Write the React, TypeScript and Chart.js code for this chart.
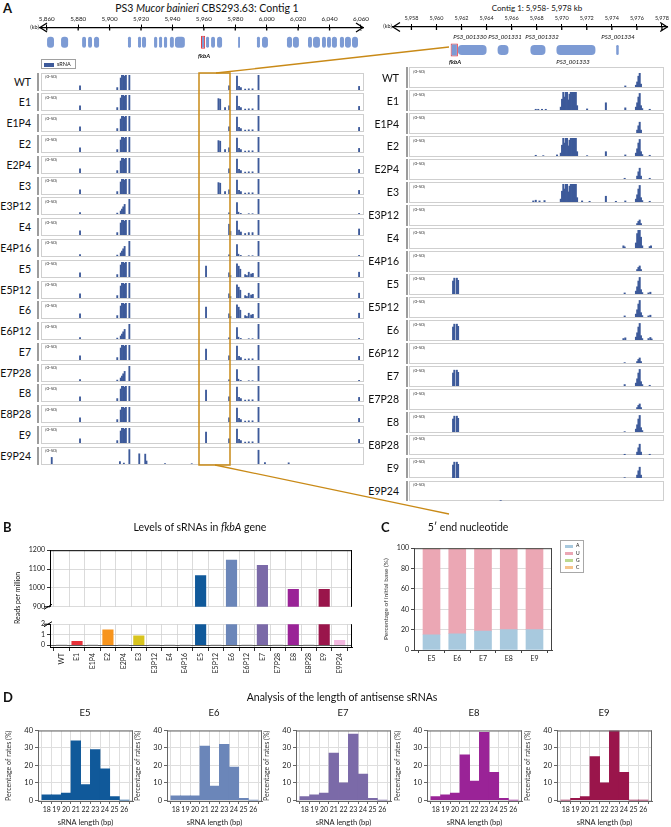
import React, { useEffect, useRef } from 'react';
import { Chart, registerables } from 'chart.js';

Chart.register(...registerables);
const FONT = 'Lato, "Open Sans", "Noto Sans", sans-serif';
Chart.defaults.font.family = FONT;
Chart.defaults.color = '#222';

// ---------------- DATA ----------------
const SAMPLES = ['WT', 'E1', 'E1P4', 'E2', 'E2P4', 'E3', 'E3P12', 'E4', 'E4P16', 'E5', 'E5P12', 'E6', 'E6P12', 'E7', 'E7P28', 'E8', 'E8P28', 'E9', 'E9P24'];

// Panel A axis ticks (kb)
const CONTIG_TICKS = [5860, 5880, 5900, 5920, 5940, 5960, 5980, 6000, 6020, 6040, 6060];
const ZOOM_TICKS = [5958, 5960, 5962, 5964, 5966, 5968, 5970, 5972, 5974, 5976, 5978];

// gene blocks [start kb, end kb]
const CONTIG_GENES = [
  [5860.2, 5864.6], [5869.1, 5873.6], [5882.5, 5885.0], [5886.3, 5888.8], [5890.1, 5893.3],
  [5911.7, 5913.6], [5918.1, 5920.0], [5920.6, 5923.2], [5928.3, 5930.3], [5931.5, 5933.4],
  [5934.6, 5936.6], [5938.4, 5940.9], [5941.6, 5947.9], [5961.4, 5963.3], [5964.6, 5967.1],
  [5968.4, 5971.6], [5981.8, 5983.0], [5993.8, 5995.7], [5997.0, 6000.8], [6012.9, 6016.1],
  [6016.7, 6020.5], [6026.3, 6028.8], [6029.5, 6033.9], [6035.2, 6037.7], [6038.4, 6040.9],
  [6041.5, 6044.7], [6046.6, 6049.2], [6049.8, 6053.6], [6054.3, 6058.1],
];
const CONTIG_FKBA = [5958.2, 5960.8];
const ZOOM_GENES = [[5961.71, 5964.0], [5964.88, 5965.75], [5967.5, 5968.7], [5969.58, 5972.69], [5974.35, 5974.55]];
const ZOOM_FKBA = [5961.13, 5961.71];

// sRNA signal, [kb, reads] — contig view patterns
const L_CLUSTER_FULL = [[5881.2, 14], [5904.9, 8], [5907.1, 40], [5907.9, 50], [5908.7, 50], [5909.6, 46], [5910.4, 50], [5912.6, 50]];
const L_CLUSTER_RAMP = [[5881.2, 5], [5904.9, 3], [5907.1, 10], [5907.9, 16], [5908.7, 24], [5909.6, 32], [5912.6, 50]];
const L_DOWN_FULL = [[5976.1, 14], [5981.1, 46], [5982.4, 12], [5983.6, 8], [5986.3, 3], [5988.6, 4], [5991.0, 4], [5994.8, 50], [6058.8, 12]];
const L_DOWN_E4 = [[5976.1, 36], [5976.9, 12], [5981.1, 46], [5982.4, 16], [5983.6, 10], [5986.3, 5], [5988.6, 8], [5991.0, 8], [5994.8, 50], [6058.8, 20]];
const L_DOWN_RICH = [[5976.1, 14], [5976.9, 5], [5981.1, 44], [5982.2, 36], [5983.2, 26], [5986.3, 8], [5987.4, 5], [5988.6, 16], [5990.1, 10], [5991.2, 12], [5994.8, 50], [6058.8, 16]];
const L_DOWN_SPARSE = [[5976.1, 4], [5981.1, 38], [5982.0, 6], [5983.5, 2], [5988.6, 1], [5991.0, 1], [5994.8, 50], [6058.8, 2]];
const L_PEAK_E1 = [[5969.3, 38], [5970.4, 36], [5973.5, 8]];
const L_PEAK_E5 = [[5961.4, 36]];
const L_E9P24 = [[5863.2, 22], [5906.6, 8], [5909.1, 3], [5912.6, 48], [5918.9, 34], [5922.7, 33], [5923.5, 10], [5935.3, 1], [5952.3, 1], [5994.8, 46], [5998.9, 5], [6014.0, 4]];

// sRNA signal, [kb, reads] — 5,958-5,978 kb view patterns
const R_CLUSTER = [[5969.9, 8], [5970.0, 30], [5970.1, 50], [5970.2, 36], [5970.3, 50], [5970.4, 50], [5970.5, 28], [5970.6, 44], [5970.7, 50], [5970.8, 50], [5970.9, 50], [5971.0, 50], [5971.1, 50], [5971.2, 12]];
const R_SIDE_E1 = [[5967.9, 2], [5968.1, 2], [5968.4, 2], [5968.7, 2], [5972.0, 3], [5973.5, 20], [5975.05, 6], [5977.0, 2]];
const R_SIDE_E2 = [[5967.9, 2], [5968.5, 1], [5969.6, 3], [5972.0, 1], [5973.5, 12], [5975.05, 3], [5977.0, 2]];
const R_SIDE_E3 = [[5967.7, 3], [5967.9, 5], [5968.2, 3], [5968.6, 4], [5971.6, 3], [5972.2, 2], [5973.5, 16], [5974.3, 2], [5975.05, 3], [5977.0, 2]];
const R_PEAK_MAIN = [[5975.05, 3], [5975.9, 5], [5976.0, 14], [5976.1, 30], [5976.2, 38], [5976.3, 8]];
const R_PEAK_TALL = [[5975.9, 8], [5976.0, 20], [5976.1, 36], [5976.2, 46], [5976.3, 12], [5976.4, 4]];
const R_PEAK_MID = [[5976.0, 8], [5976.1, 20], [5976.2, 30], [5976.3, 8]];
const R_PEAK_SMALL = [[5976.0, 4], [5976.1, 10], [5976.2, 14], [5976.3, 4]];
const R_PEAK_E4 = [[5974.9, 6], [5975.0, 3], [5975.9, 14], [5976.0, 40], [5976.1, 50], [5976.2, 50], [5976.3, 30], [5976.4, 6], [5977.0, 4], [5977.1, 6]];
const R_DOUBLE = [[5961.3, 36], [5961.4, 44], [5961.6, 44], [5961.7, 38]];
const R_TAIL_E5 = [[5975.0, 3], [5976.9, 3], [5977.05, 5]];
const R_TAIL_E6 = [[5974.9, 4], [5975.05, 6], [5976.9, 4], [5977.05, 7], [5977.15, 3]];
const R_TAIL_E7 = [[5975.0, 4], [5977.0, 2]];
const R_TAIL_LOW = [[5975.0, 2], [5977.0, 2]];
const R_TAIL_ONE = [[5975.0, 1]];
const R_E9P24 = [[5965.1, 1]];

const LEFT_TRACKS = [
  [...L_CLUSTER_FULL, ...L_DOWN_FULL],
  [...L_CLUSTER_FULL, ...L_PEAK_E1, ...L_DOWN_FULL],
  [...L_CLUSTER_FULL, ...L_DOWN_FULL],
  [...L_CLUSTER_FULL, ...L_PEAK_E1, ...L_DOWN_FULL],
  [...L_CLUSTER_FULL, ...L_DOWN_FULL],
  [...L_CLUSTER_FULL, ...L_PEAK_E1, ...L_DOWN_FULL],
  [...L_CLUSTER_RAMP, ...L_DOWN_SPARSE],
  [...L_CLUSTER_FULL, ...L_DOWN_E4],
  [...L_CLUSTER_RAMP, ...L_DOWN_SPARSE],
  [...L_CLUSTER_FULL, ...L_PEAK_E5, ...L_DOWN_RICH],
  [...L_CLUSTER_FULL, ...L_DOWN_RICH],
  [...L_CLUSTER_FULL, ...L_PEAK_E5, ...L_DOWN_RICH],
  [...L_CLUSTER_RAMP, ...L_DOWN_SPARSE],
  [...L_CLUSTER_FULL, ...L_PEAK_E5, ...L_DOWN_FULL],
  [...L_CLUSTER_RAMP, ...L_DOWN_SPARSE],
  [...L_CLUSTER_FULL, ...L_PEAK_E5, ...L_DOWN_FULL],
  [...L_CLUSTER_FULL, ...L_DOWN_FULL],
  [...L_CLUSTER_FULL, ...L_PEAK_E5, ...L_DOWN_FULL],
  [...L_E9P24],
];
const RIGHT_TRACKS = [
  [...R_PEAK_MAIN],
  [...R_CLUSTER, ...R_SIDE_E1, ...R_PEAK_TALL],
  [...R_PEAK_MID],
  [...R_CLUSTER, ...R_SIDE_E2, ...R_PEAK_TALL],
  [...R_PEAK_MID, ...R_TAIL_LOW],
  [...R_CLUSTER, ...R_SIDE_E3, ...R_PEAK_TALL],
  [...R_PEAK_SMALL],
  [...R_PEAK_E4],
  [...R_PEAK_SMALL],
  [...R_DOUBLE, ...R_PEAK_TALL, ...R_TAIL_E5],
  [...R_PEAK_TALL, ...R_TAIL_E5],
  [...R_DOUBLE, ...R_PEAK_TALL, ...R_TAIL_E6],
  [...R_PEAK_SMALL, ...R_TAIL_ONE],
  [...R_DOUBLE, ...R_PEAK_TALL, ...R_TAIL_E7],
  [...R_PEAK_SMALL],
  [...R_DOUBLE, ...R_PEAK_TALL, ...R_TAIL_ONE],
  [...R_PEAK_MID, ...R_TAIL_LOW],
  [...R_DOUBLE, ...R_PEAK_MID, ...R_TAIL_ONE],
  [...R_E9P24],
];

// Panel B: reads per million in fkbA
const READS = [0, 0.37, 0, 1.45, 0, 0.88, 0, 0, 0, 1065, 0, 1147, 0, 1120, 0, 992, 0, 992, 0.46];
const READS_COLORS = ['#888', '#e8333b', '#888', '#f7941d', '#888', '#d8c41e', '#888', '#888', '#888', '#10599a', '#888', '#6b86b9', '#888', '#7b6aa8', '#888', '#9a2397', '#888', '#9a154b', '#f3b8e0'];
const READS_TICKS_UPPER = [900, 1000, 1100, 1200];
const READS_TICKS_LOWER = [0, 1, 2];

// Panel C: 5' nucleotide (%)
const NUC_SAMPLES = ['E5', 'E6', 'E7', 'E8', 'E9'];
const NUC_A = [15, 16, 18.5, 20, 20];
const NUC_U = [84.5, 83.5, 81, 79.6, 79.6];
const NUC_G = [0.3, 0.3, 0.3, 0.2, 0.2];
const NUC_C = [0.2, 0.2, 0.2, 0.2, 0.2];
const NUC_TICKS = [0, 20, 40, 60, 80, 100];

// Panel D: length distribution (%)
const LENGTHS = [18, 19, 20, 21, 22, 23, 24, 25, 26];
const HIST_E5 = [3, 3, 4, 34, 9, 29, 18, 2, 0];
const HIST_E6 = [2.5, 2.5, 2.5, 31, 8, 32, 19, 1, 0];
const HIST_E7 = [2, 3, 4, 27, 10, 38, 15, 1, 0];
const HIST_E8 = [2, 3, 4, 26, 11, 39, 16, 1, 0];
const HIST_E9 = [0, 1, 2, 25, 10, 40, 16, 0, 0];
const HIST_TICKS = [0, 10, 20, 30, 40];

// ---------------- STYLE ----------------
const SIGNAL = '#3d5a9a';
const GENE = '#7d9bd4';
const RED = '#e8383d';
const ORANGE = '#c98a17';
const GRID = '#d2d2d2';

const fmtKb = (v: number) => String(v).replace(/\B(?=(\d{3})+(?!\d))/g, ',');

const base = (extra: any) => ({
  animation: false,
  responsive: false,
  maintainAspectRatio: false,
  devicePixelRatio: 1,
  events: [],
  ...extra,
  plugins: { legend: { display: false }, tooltip: { enabled: false }, ...(extra.plugins || {}) },
});

const arrowPlugin = {
  id: 'axisArrows',
  afterDraw(chart: any) {
    const { ctx, chartArea: a } = chart;
    const sx = chart.scales.x;
    const y = a.top;
    ctx.save();
    ctx.strokeStyle = '#000';
    ctx.lineWidth = 1.3;
    ctx.beginPath();
    ctx.moveTo(a.left + 7, y - 4.5); ctx.lineTo(a.left, y); ctx.lineTo(a.left + 7, y + 4.5);
    ctx.moveTo(a.right - 7, y - 4.5); ctx.lineTo(a.right, y); ctx.lineTo(a.right - 7, y + 4.5);
    sx.ticks.forEach((t: any) => {
      const px = sx.getPixelForValue(t.value);
      ctx.moveTo(px, y); ctx.lineTo(px, y + 3);
    });
    ctx.stroke();
    ctx.restore();
  },
};

const framePlugin = {
  id: 'frame',
  afterDatasetsDraw(chart: any, _a: any, opts: any) {
    if (!opts || !opts.sides) return;
    const { ctx, chartArea: a } = chart;
    ctx.save();
    ctx.strokeStyle = opts.color || '#000';
    ctx.lineWidth = opts.width || 1;
    ctx.beginPath();
    opts.sides.forEach((s: string) => {
      if (s === 'top') { ctx.moveTo(a.left, a.top + 0.5); ctx.lineTo(a.right, a.top + 0.5); }
      if (s === 'right') { ctx.moveTo(a.right - 0.5, a.top); ctx.lineTo(a.right - 0.5, a.bottom); }
      if (s === 'bottom') { ctx.moveTo(a.left, a.bottom - 0.5); ctx.lineTo(a.right, a.bottom - 0.5); }
    });
    ctx.stroke();
    ctx.restore();
  },
};

const breakPlugin = {
  id: 'breakMark',
  afterDraw(chart: any, _a: any, opts: any) {
    if (!opts || !opts.at) return;
    const { ctx, chartArea: a } = chart;
    const y = opts.at === 'bottom' ? a.bottom : a.top;
    ctx.save();
    ctx.strokeStyle = '#000';
    ctx.lineWidth = 1;
    ctx.beginPath();
    ctx.moveTo(a.left - 6, y);
    ctx.lineTo(a.left, y);
    ctx.moveTo(a.left - 6, y + 2.5);
    ctx.lineTo(a.left + 2, y - 2.5);
    ctx.stroke();
    ctx.restore();
  },
};

function ChartCanvas({ left, top, width, height, config }: any) {
  const ref = useRef<HTMLCanvasElement>(null);
  useEffect(() => {
    const c = new Chart(ref.current as HTMLCanvasElement, config());
    return () => c.destroy();
  }, []);
  return <canvas ref={ref} width={width} height={height} style={{ position: 'absolute', left, top, width, height }} />;
}

function T({ x, y, size, children, anchor = 'middle', bold, italic, color, rotate }: any) {
  const tx = anchor === 'middle' ? '-50%' : anchor === 'end' ? '-100%' : '0';
  return (
    <div style={{
      position: 'absolute', left: x, top: y, whiteSpace: 'nowrap', lineHeight: 1,
      transform: `translate(${tx}, -50%)${rotate ? ` rotate(${rotate}deg)` : ''}`,
      fontSize: size, fontWeight: bold ? 700 : 400, fontStyle: italic ? 'italic' : 'normal', color: color || '#111',
    }}>{children}</div>
  );
}

// ---------- configs ----------
const signalConfig = (pts: number[][], range: number[], bar: number, padTop: number) => () => ({
  type: 'bar',
  data: { datasets: [{ data: pts.map(([x, y]) => ({ x, y })), backgroundColor: SIGNAL, barThickness: bar, borderWidth: 0 }] },
  options: base({
    layout: { padding: { top: padTop, left: 0, right: 0, bottom: 0 } },
    scales: {
      x: { type: 'linear', offset: false, min: range[0], max: range[1], display: false },
      y: { type: 'linear', min: 0, max: 50, display: false },
    },
  }),
});

const headerConfig = (o: any) => () => ({
  type: 'bar',
  data: {
    labels: ['g'],
    datasets: [
      { data: o.genes.map((g: number[]) => ({ x: g, y: 'g' })), backgroundColor: GENE, borderRadius: o.radius, borderSkipped: false, barPercentage: o.barPct, categoryPercentage: 1, grouped: false },
      { data: [{ x: o.fkba, y: 'g' }], backgroundColor: GENE, borderColor: RED, borderWidth: 1, borderSkipped: false, barPercentage: o.boxPct, categoryPercentage: 1, grouped: false },
    ],
  },
  options: base({
    indexAxis: 'y',
    layout: { padding: { left: o.padL, right: o.padR, top: o.padT, bottom: 0 } },
    scales: {
      x: {
        type: 'linear', position: 'top', offset: false, min: o.range[0], max: o.range[1],
        afterBuildTicks: (s: any) => { s.ticks = o.ticks.map((v: number) => ({ value: v })); },
        ticks: { font: { size: o.fs }, color: '#222', padding: 2, maxRotation: 0, minRotation: 0, autoSkip: false, callback: (v: any) => fmtKb(Number(v)) },
        grid: { drawOnChartArea: false, tickLength: 3, color: '#000', lineWidth: 1 },
        border: { color: '#000', width: 1.3 },
      },
      y: { type: 'category', display: false },
    },
  }),
  plugins: [arrowPlugin],
});

const readsConfig = (upper: boolean) => () => ({
  type: 'bar',
  data: { datasets: [{ data: READS.map((v, i) => ({ x: i, y: v })), backgroundColor: READS_COLORS, barThickness: 10.5, borderWidth: 0 }] },
  options: base({
    layout: { padding: { top: 5, right: 3, left: 0, bottom: 0 } },
    scales: {
      x: {
        type: 'linear', offset: false, min: -0.75, max: 18.8,
        afterBuildTicks: (s: any) => { s.ticks = SAMPLES.map((_, i) => ({ value: i })); },
        ticks: upper ? { display: false } : { font: { size: 7 }, color: '#222', autoSkip: false, minRotation: 90, maxRotation: 90, padding: 2, callback: (v: any) => SAMPLES[Number(v)] },
        grid: { color: GRID, lineWidth: 0.8, drawTicks: !upper, tickLength: 3, tickColor: '#000' },
        border: { display: !upper, color: '#000', width: 1 },
        afterFit: (s: any) => { s.height = upper ? 0 : 36; },
      },
      y: {
        min: upper ? 900 : -0.28, max: upper ? 1200 : 2,
        afterBuildTicks: (s: any) => { s.ticks = (upper ? READS_TICKS_UPPER : READS_TICKS_LOWER).map((v) => ({ value: v })); },
        ticks: { font: { size: 7 }, color: '#222', padding: 2, callback: (v: any) => String(v) },
        grid: { color: (c: any) => (c.tick && c.tick.value === 0 ? '#333' : GRID), lineWidth: 0.8, tickLength: 3, tickColor: '#000' },
        border: { color: '#000', width: 1 },
        afterFit: (s: any) => { s.width = 30; },
      },
    },
    plugins: {
      frame: { sides: upper ? ['top', 'right'] : ['right'], color: '#000', width: 1 },
      breakMark: { at: upper ? 'bottom' : 'top' },
    },
  }),
  plugins: [framePlugin, breakPlugin],
});

const nucConfig = () => ({
  type: 'bar',
  data: {
    datasets: [
      { label: 'A', data: NUC_A.map((v, i) => ({ x: i, y: v })), backgroundColor: '#a8c9de' },
      { label: 'U', data: NUC_U.map((v, i) => ({ x: i, y: v })), backgroundColor: '#eba7b4' },
      { label: 'G', data: NUC_G.map((v, i) => ({ x: i, y: v })), backgroundColor: '#bcd98f' },
      { label: 'C', data: NUC_C.map((v, i) => ({ x: i, y: v })), backgroundColor: '#f6c48d' },
    ].map((d) => ({ ...d, barThickness: 17, borderWidth: 0 })),
  },
  options: base({
    layout: { padding: { top: 5, right: 3, left: 0, bottom: 0 } },
    scales: {
      x: {
        type: 'linear', stacked: true, offset: false, min: -0.68, max: 4.68,
        afterBuildTicks: (s: any) => { s.ticks = NUC_SAMPLES.map((_, i) => ({ value: i })); },
        ticks: { font: { size: 7 }, color: '#222', autoSkip: false, maxRotation: 0, padding: 2, callback: (v: any) => NUC_SAMPLES[Number(v)] },
        grid: { drawOnChartArea: false, tickLength: 3, color: '#444' },
        border: { color: '#444', width: 1 },
        afterFit: (s: any) => { s.height = 14; },
      },
      y: {
        stacked: true, min: 0, max: 100,
        afterBuildTicks: (s: any) => { s.ticks = NUC_TICKS.map((v) => ({ value: v })); },
        ticks: { font: { size: 7 }, color: '#222', padding: 2 },
        grid: { color: '#dcdcdc', tickLength: 3, tickColor: '#444' },
        border: { color: '#444', width: 1 },
        title: { display: true, text: 'Percentage of initial base (%)', font: { size: 6.5 }, color: '#333', padding: { top: 0, bottom: 2 } },
        afterFit: (s: any) => { s.width = 32; },
      },
    },
    plugins: { frame: { sides: ['top', 'right'], color: '#444', width: 1 } },
  }),
  plugins: [framePlugin],
});

const histConfig = (vals: number[], color: string) => () => ({
  type: 'bar',
  data: { datasets: [{ data: vals.map((v, i) => ({ x: LENGTHS[i], y: v })), backgroundColor: color, barThickness: 9.7, borderWidth: 0 }] },
  options: base({
    layout: { padding: { top: 6, right: 4, left: 0, bottom: 0 } },
    scales: {
      x: {
        type: 'linear', offset: false, min: 17.1, max: 26.9,
        afterBuildTicks: (s: any) => { s.ticks = LENGTHS.map((v) => ({ value: v })); },
        ticks: { font: { size: 7 }, color: '#222', autoSkip: false, maxRotation: 0, padding: 2 },
        grid: { color: '#dedede', tickLength: 3, tickColor: '#666' },
        border: { color: '#666', width: 1 },
        title: { display: true, text: 'sRNA length (bp)', font: { size: 7.5 }, color: '#222', padding: { top: 1, bottom: 0 } },
        afterFit: (s: any) => { s.height = 26; },
      },
      y: {
        min: -0.5, max: 40,
        afterBuildTicks: (s: any) => { s.ticks = HIST_TICKS.map((v) => ({ value: v })); },
        ticks: { font: { size: 7.5 }, color: '#222', padding: 2 },
        grid: { color: '#dedede', tickLength: 3, tickColor: '#666' },
        border: { color: '#666', width: 1 },
        title: { display: true, text: 'Percentage of rates (%)', font: { size: 7 }, color: '#333', padding: { top: 0, bottom: 2 } },
        afterFit: (s: any) => { s.width = 33; },
      },
    },
    plugins: { frame: { sides: ['top', 'right'], color: '#666', width: 1 } },
  }),
  plugins: [framePlugin],
});

// ---------- layout constants ----------
const L_BOX = { x: 41, w: 323, h: 18, top: 72.7, step: 20.78, range: [5857.0, 6061.3], labelX: 31, barX: 37.3 };
const R_BOX = { x: 409, w: 255, h: 20.5, top: 67.3, step: 22.98, range: [5957.86, 5978.06], labelX: 399, barX: 405.5 };

function TrackColumn({ cfg, tracks, bar, padTop }: any) {
  return (
    <>
      {SAMPLES.map((name, i) => {
        const y = cfg.top + i * cfg.step;
        return (
          <React.Fragment key={name}>
            <T x={cfg.labelX} y={y + cfg.h / 2} size={10.5} anchor="end">{name}</T>
            <div style={{ position: 'absolute', left: cfg.barX, top: y, width: 2.2, height: cfg.h, background: '#9c9c9c' }} />
            <div style={{ position: 'absolute', left: cfg.x, top: y, width: cfg.w, height: cfg.h, border: '1px solid #cfcfcf', boxSizing: 'border-box' }}>
              <div style={{ position: 'absolute', left: 3, top: 1.5, fontSize: 4.5, lineHeight: 1, color: '#333' }}>[0-50]</div>
              <ChartCanvas left={0} top={0} width={cfg.w - 2} height={Math.round(cfg.h - 2)} config={signalConfig(tracks[i], cfg.range, bar, padTop)} />
            </div>
          </React.Fragment>
        );
      })}
    </>
  );
}

const D_LEFTS = [38, 167, 296, 427, 557];
const D_SETS = [
  { name: 'E5', vals: HIST_E5, color: '#10599a' },
  { name: 'E6', vals: HIST_E6, color: '#6b86b9' },
  { name: 'E7', vals: HIST_E7, color: '#7b6aa8' },
  { name: 'E8', vals: HIST_E8, color: '#9a2397' },
  { name: 'E9', vals: HIST_E9, color: '#9a154b' },
];

export default function App() {
  return (
    <div style={{ position: 'absolute', left: 0, top: 0, width: 671, height: 827, overflow: 'hidden', background: '#fff', fontFamily: FONT, color: '#111' }}>
      {/* ---------- Panel A ---------- */}
      <T x={3} y={8} size={13} bold anchor="start">A</T>
      <T x={207} y={8} size={10.5}>PS3 <i>Mucor bainieri</i> CBS293.63: Contig 1</T>
      <T x={537} y={8} size={8}>Contig 1: 5,958- 5,978 kb</T>

      <ChartCanvas left={28} top={11} width={347} height={46}
        config={headerConfig({ genes: CONTIG_GENES, fkba: CONTIG_FKBA, range: [5855.7, 6061.3], ticks: CONTIG_TICKS, padL: 12, padR: 12, padT: 2, fs: 6.3, barPct: 0.377, boxPct: 0.445, radius: 3 })} />
      <ChartCanvas left={381} top={11} width={290} height={62}
        config={headerConfig({ genes: ZOOM_GENES, fkba: ZOOM_FKBA, range: [5956.53, 5978.42], ticks: ZOOM_TICKS, padL: 12, padR: 3, padT: 2.4, fs: 5.5, barPct: 0.217, boxPct: 0.283, radius: 4 })} />

      <T x={39} y={28} size={5.5} anchor="end">(kb)</T>
      <T x={392} y={27} size={5.5} anchor="end">(kb)</T>
      <T x={204} y={56} size={6} bold italic>fkbA</T>
      <T x={455} y={62} size={6} bold italic>fkbA</T>
      <T x={470} y={37} size={6} italic>PS3_001330</T>
      <T x={505} y={37} size={6} italic>PS3_001331</T>
      <T x={542} y={37} size={6} italic>PS3_001332</T>
      <T x={618} y={37} size={6} italic>PS3_001334</T>
      <T x={573} y={62} size={6} italic>PS3_001333</T>

      <div style={{ position: 'absolute', left: 41, top: 59, width: 35, height: 10, border: '1px solid #a0a0a0', boxSizing: 'border-box' }}>
        <div style={{ position: 'absolute', left: 2, top: 2.5, width: 10, height: 4, background: SIGNAL }} />
        <div style={{ position: 'absolute', left: 15, top: 1.5, fontSize: 5.5, lineHeight: 1 }}>sRNA</div>
      </div>

      <TrackColumn cfg={L_BOX} tracks={LEFT_TRACKS} bar={1.2} padTop={1} />
      <TrackColumn cfg={R_BOX} tracks={RIGHT_TRACKS} bar={1.35} padTop={1} />

      <svg width={671} height={827} style={{ position: 'absolute', left: 0, top: 0, pointerEvents: 'none' }}>
        <rect x={199} y={73} width={31} height={392} fill="none" stroke={ORANGE} strokeWidth={1.5} />
        <line x1={216} y1={73} x2={449} y2={47} stroke={ORANGE} strokeWidth={1.3} />
        <line x1={215} y1={465} x2={449} y2={514} stroke={ORANGE} strokeWidth={1.3} />
      </svg>

      {/* ---------- Panel B ---------- */}
      <T x={3} y={527} size={13} bold anchor="start">B</T>
      <T x={200} y={527} size={10.5}>Levels of sRNAs in <i>fkbA</i> gene</T>
      <ChartCanvas left={20} top={544} width={335} height={69} config={readsConfig(true)} />
      <ChartCanvas left={20} top={618} width={335} height={66} config={readsConfig(false)} />
      <T x={17} y={598} size={7} rotate={-90}>Reads per million</T>

      {/* ---------- Panel C ---------- */}
      <T x={381} y={527} size={13} bold anchor="start">C</T>
      <T x={468} y={527} size={10.5}>5′ end nucleotide</T>
      <ChartCanvas left={382} top={542} width={173} height={122} config={nucConfig} />
      <div style={{ position: 'absolute', left: 560, top: 540, width: 24, height: 33, border: '1px solid #a8a8a8', boxSizing: 'border-box', background: '#fff' }}>
        {[['A', '#a8c9de'], ['U', '#eba7b4'], ['G', '#bcd98f'], ['C', '#f6c48d']].map(([k, c], i) => (
          <React.Fragment key={k}>
            <div style={{ position: 'absolute', left: 4, top: 3.5 + i * 7.3, width: 8, height: 3, background: c }} />
            <div style={{ position: 'absolute', left: 15, top: 2.3 + i * 7.3, fontSize: 5, lineHeight: 1 }}>{k}</div>
          </React.Fragment>
        ))}
      </div>

      {/* ---------- Panel D ---------- */}
      <T x={3} y={697} size={13} bold anchor="start">D</T>
      <T x={342} y={697} size={10.5}>Analysis of the length of antisense sRNAs</T>
      {D_SETS.map((d, i) => (
        <React.Fragment key={d.name}>
          <T x={D_LEFTS[i] + 47} y={713} size={9.5}>{d.name}</T>
          <ChartCanvas left={D_LEFTS[i] - 33} top={724} width={132} height={103} config={histConfig(d.vals, d.color)} />
        </React.Fragment>
      ))}
    </div>
  );
}
